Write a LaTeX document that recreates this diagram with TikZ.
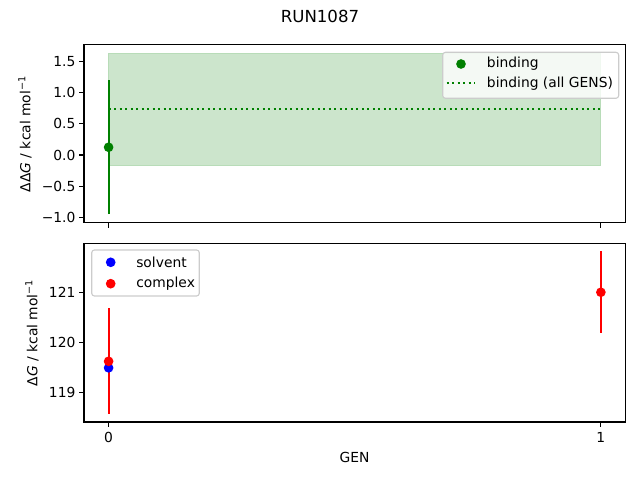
\documentclass[tikz,border=0pt]{standalone}
\usepackage{fontspec}
\setmainfont{DejaVu Sans}
\definecolor{mplgreen}{RGB}{0,128,0}
\definecolor{mplblue}{RGB}{0,0,255}
\definecolor{mplred}{RGB}{255,0,0}
\tikzset{
  axframe/.style={line width=0.8pt},
  tickmark/.style={line width=0.8pt},
  ticklabel/.style={font=\fontsize{10}{12}\selectfont, inner sep=0pt},
  errbar/.style={line width=1.5pt},
  legendbox/.style={draw=black!20, fill=white, fill opacity=0.8, rounded corners=2pt, line width=0.8pt},
  legendtext/.style={font=\fontsize{10}{12}\selectfont, anchor=west, inner sep=0pt}
}
\begin{document}
\begin{tikzpicture}[x=0.01in, y=-0.01in]
\useasboundingbox (0,0) rectangle (640,480);
\node[font=\fontsize{12}{14}\selectfont] (title) at (320,16.5) {RUN1087};
    % top panel, data coordinates
    \begin{scope}[shift={(108.6,155)}, x=4.92in, y=0.623in]
    \def\topframe{(-0.05,-1.087) rectangle (1.05,1.766)}
    \fill[mplgreen!20] (0,-0.17) rectangle (1,1.63);
    \draw[mplgreen!28, line width=0.6pt] (0,-0.17) rectangle (1,1.63);
    \draw[mplgreen, line width=1.5pt, dash pattern=on 1.5pt off 2.475pt] (0,0.74) -- (1,0.74);
    \draw[mplgreen, errbar] (0,-0.95) -- (0,1.20);
    \fill[mplgreen] (0,0.124) circle (3.5pt);
    \draw[axframe] \topframe;
    \foreach \v/\t [count=\i] in {1.5/1.5, 1.0/1.0, 0.5/0.5, 0.0/0.0, -0.5/−0.5, -1.0/−1.0}{
      \draw[tickmark] (-0.05,\v) -- ++(-3.5pt,0);
      \node[ticklabel, anchor=east] (ytop\i) at ([xshift=-6pt]-0.05,\v) {\t};
    }
    \foreach \u in {0,1}
      \draw[tickmark] (\u,-1.087) -- ++(0,-3.5pt);
    \end{scope}
    % bottom panel, origin at 120
    \begin{scope}[shift={(108.6,342.3)}, x=4.92in, y=0.5in]
    \def\botframe{(-0.05,-1.594) rectangle (1.05,1.98)}
    \draw[mplred, errbar] (0,-1.43) -- (0,0.69);
    \draw[mplred, errbar] (1,0.19) -- (1,1.83);
    \fill[mplblue] (0,-0.51) circle (3.5pt);
    \fill[mplred] (0,-0.38) circle (3.5pt);
    \fill[mplred] (1,1.0) circle (3.5pt);
    \draw[axframe] \botframe;
    \foreach \v [count=\i] in {119,120,121}{
      \draw[tickmark] (-0.05,\v-120) -- ++(-3.5pt,0);
      \node[ticklabel, anchor=east] (ybot\i) at ([xshift=-6pt]-0.05,\v-120) {\v};
    }
    \foreach \u in {0,1}{
      \draw[tickmark] (\u,-1.594) -- ++(0,-3.5pt);
      \node[ticklabel, anchor=north] (xbot\u) at ([yshift=-7pt]\u,-1.594) {\u};
    }
    \end{scope}
% axis labels
\node[ticklabel, rotate=90] (ylabtop) at (25,134) {ΔΔ\textit{G} / kcal mol\textsuperscript{−1}};
\node[ticklabel, rotate=90] (ylabbot) at (32,332.7) {Δ\textit{G} / kcal mol\textsuperscript{−1}};
\node[ticklabel] (xlab) at (354.5,457) {GEN};
% legends
\draw[legendbox] (442.7,52.3) rectangle (618.7,98.3);
\fill[mplgreen] (461,64) circle (3.5pt);
\draw[mplgreen, line width=1.5pt, dash pattern=on 1.5pt off 2.475pt] (446.7,83.3) -- (475,83.3);
\node[legendtext] (legbind) at (486.7,64) {binding};
\node[legendtext] (legall) at (486.7,83.3) {binding (all GENS)};
\draw[legendbox] (91.7,250) rectangle (199.3,296);
\fill[mplblue] (110.7,262.3) circle (3.5pt);
\fill[mplred] (110.7,283.7) circle (3.5pt);
\node[legendtext] (legsolv) at (136,262.3) {solvent};
\node[legendtext] (legcomp) at (136,283.7) {complex};
\end{tikzpicture}
\end{document}
